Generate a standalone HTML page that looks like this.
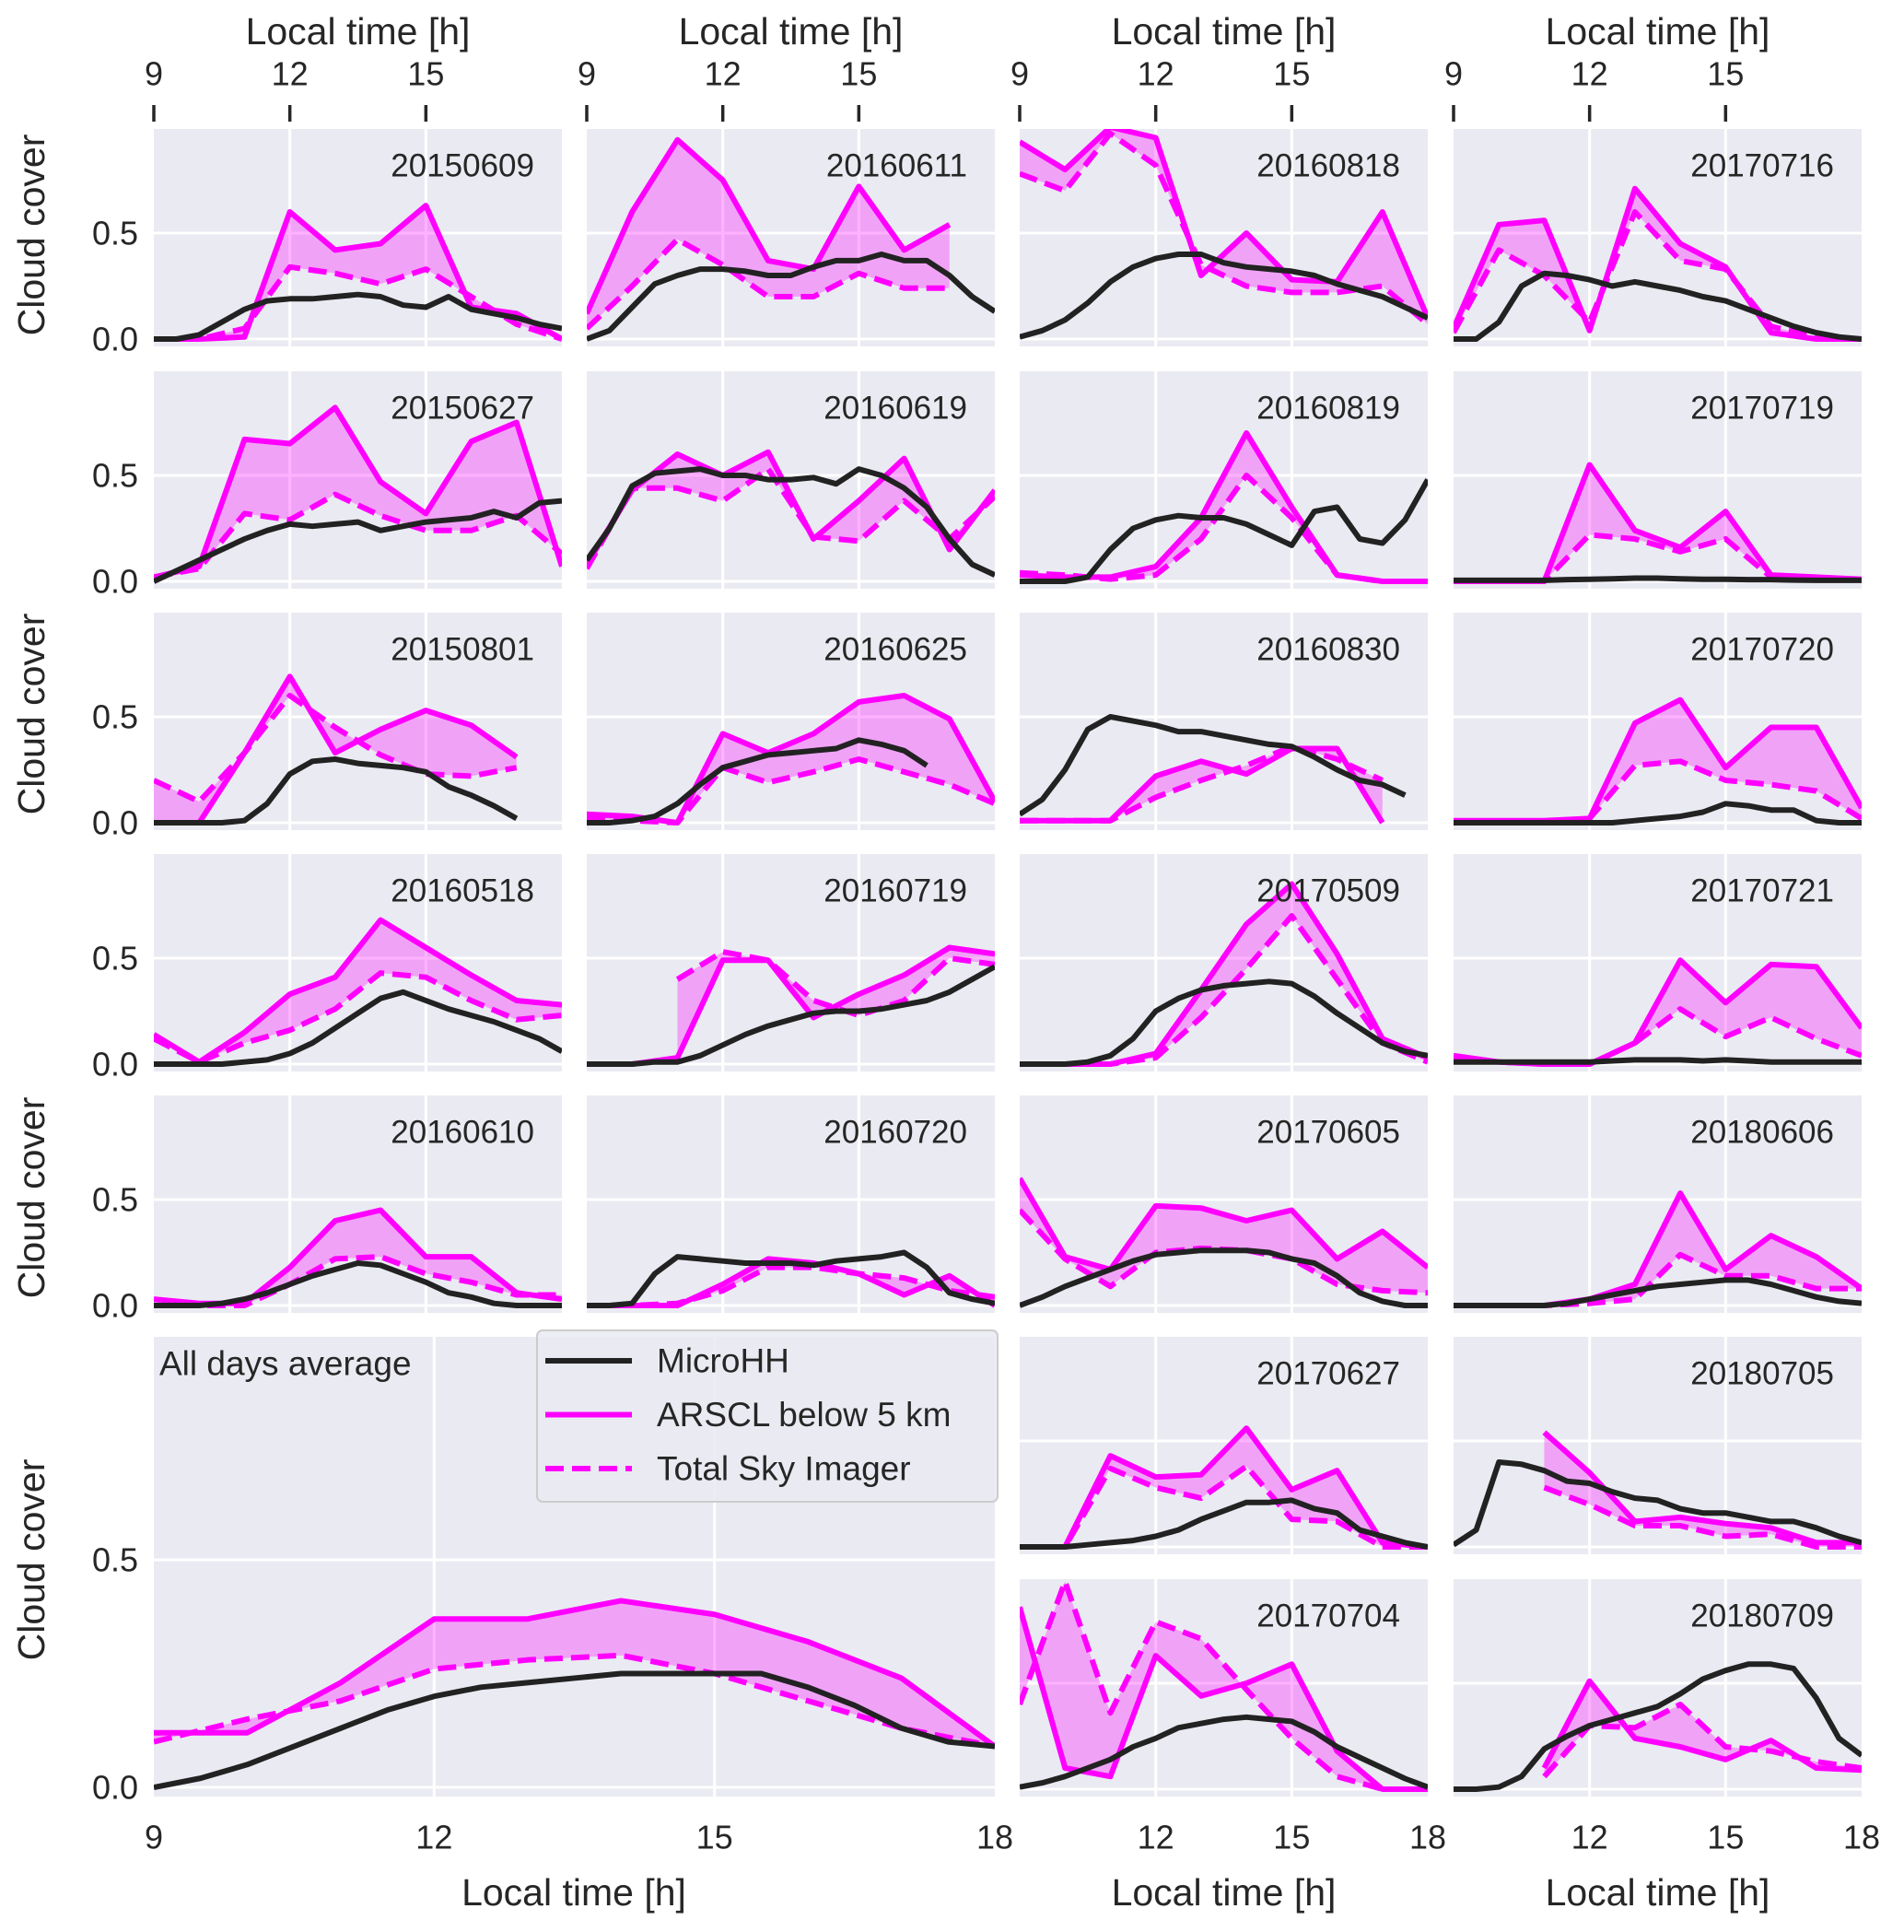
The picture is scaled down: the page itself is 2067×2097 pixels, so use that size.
<!DOCTYPE html>
<html><head><meta charset="utf-8">
<style>
html,body{margin:0;padding:0;background:#fff;}
svg{display:block;font-family:"Liberation Sans",sans-serif;}
</style></head>
<body>
<svg id="fig" width="2067" height="2097" viewBox="0 0 2067 2097" xmlns="http://www.w3.org/2000/svg"></svg>
<script>
// ---- data ----
const arsclHours = [9,10,11,12,13,14,15,16,17,18];
const mhhHours = [9,9.5,10,10.5,11,11.5,12,12.5,13,13.5,14,14.5,15,15.5,16,16.5,17,17.5,18];
const panelDates = ["20150609","20150627","20150801","20160518","20160610",
 "20160611","20160619","20160625","20160719","20160720",
 "20160818","20160819","20160830","20170509","20170605","20170627","20170704",
 "20170716","20170719","20170720","20170721","20180606","20180705","20180709"];
const panelCols = [0,0,0,0,0, 1,1,1,1,1, 2,2,2,2,2,2,2, 3,3,3,3,3,3,3];
const panelRows = [0,1,2,3,4, 0,1,2,3,4, 0,1,2,3,4,5,6, 0,1,2,3,4,5,6];
const arscl = [
 [0,0,0.01,0.6,0.42,0.45,0.63,0.15,0.12,0],
 [0.02,0.07,0.67,0.65,0.82,0.47,0.32,0.66,0.75,0.07],
 [0,0,0.33,0.69,0.33,0.44,0.53,0.46,0.31,null],
 [0.14,0.01,0.15,0.33,0.41,0.68,0.55,0.42,0.3,0.28],
 [0.03,0.01,0.01,0.18,0.4,0.45,0.23,0.23,0.06,0.03],
 [0.12,0.6,0.94,0.75,0.37,0.33,0.72,0.42,0.54,null],
 [0.08,0.43,0.6,0.5,0.61,0.2,0.38,0.58,0.15,0.43],
 [0.04,0.03,0,0.42,0.33,0.42,0.57,0.6,0.49,0.1],
 [0,0,0.03,0.49,0.49,0.22,0.33,0.42,0.55,0.52],
 [0,0,0,0.1,0.22,0.2,0.15,0.05,0.14,0],
 [0.93,0.8,1.0,0.95,0.3,0.5,0.28,0.27,0.6,0.1],
 [0.03,0.02,0.02,0.07,0.3,0.7,0.35,0.03,0,0],
 [0.01,0.01,0.01,0.22,0.29,0.23,0.35,0.35,0,null],
 [0,0,0,0.05,0.35,0.66,0.85,0.52,0.12,0.03],
 [0.6,0.23,0.17,0.47,0.46,0.4,0.45,0.22,0.35,0.18],
 [0,0,0.43,0.33,0.34,0.56,0.27,0.36,0.02,0],
 [0.86,0.1,0.06,0.63,0.44,0.5,0.59,0.18,0,0],
 [0.05,0.54,0.56,0.04,0.71,0.45,0.34,0.03,0,0],
 [0,0,0,0.55,0.24,0.16,0.33,0.03,0.02,0.01],
 [0.01,0.01,0.01,0.02,0.47,0.58,0.26,0.45,0.45,0.07],
 [0.04,0.01,0,0,0.1,0.49,0.29,0.47,0.46,0.17],
 [0,0,0,0.03,0.1,0.53,0.17,0.33,0.23,0.08],
 [null,null,0.54,0.35,0.12,0.14,0.11,0.09,0.02,0.02],
 [null,null,0.1,0.51,0.24,0.2,0.14,0.23,0.1,0.09]
];
const tsi = [
 [0,0,0.05,0.34,0.31,0.26,0.33,0.2,0.07,0],
 [0.02,0.06,0.32,0.29,0.41,0.31,0.24,0.24,0.31,0.13],
 [0.2,0.1,0.33,0.6,0.45,0.32,0.23,0.22,0.26,null],
 [0.12,0.01,0.1,0.16,0.26,0.43,0.41,0.3,0.21,0.23],
 [0,0,0,0.1,0.22,0.23,0.15,0.11,0.05,0.05],
 [0.05,0.25,0.47,0.35,0.2,0.2,0.31,0.24,0.24,null],
 [0.06,0.44,0.44,0.38,0.53,0.21,0.19,0.38,0.2,0.4],
 [0.02,0.01,0,0.26,0.19,0.24,0.3,0.24,0.18,0.09],
 [null,null,0.4,0.53,0.49,0.3,0.23,0.3,0.5,0.47],
 [0,0,0.01,0.07,0.18,0.18,0.15,0.13,0.07,0.04],
 [0.78,0.7,0.97,0.82,0.35,0.25,0.22,0.22,0.25,0.07],
 [0.04,0.03,0.01,0.03,0.2,0.5,0.3,0.03,0,0],
 [0.01,0.01,0.01,0.12,0.2,0.27,0.36,0.3,0.2,null],
 [0,0,0,0.03,0.22,0.45,0.7,0.4,0.1,0.01],
 [0.45,0.22,0.09,0.25,0.27,0.26,0.22,0.1,0.07,0.06],
 [0,0,0.37,0.28,0.23,0.38,0.13,0.12,0,0],
 [0.4,0.98,0.36,0.79,0.71,0.47,0.24,0.06,0,0],
 [0.03,0.42,0.3,0.08,0.6,0.37,0.33,0.06,0.01,0],
 [0,0,0,0.22,0.2,0.14,0.2,0.02,0.01,0.01],
 [0,0,0,0.02,0.27,0.29,0.2,0.18,0.15,0.02],
 [0.02,0.01,0,0,0.1,0.26,0.13,0.22,0.12,0.04],
 [0,0,0,0.01,0.03,0.24,0.14,0.14,0.08,0.08],
 [null,null,0.28,0.2,0.1,0.1,0.05,0.06,0,0],
 [null,null,0.06,0.3,0.29,0.4,0.2,0.18,0.13,0.1]
];
const microhh = [
 [0,0,0.02,0.08,0.14,0.18,0.19,0.19,0.2,0.21,0.2,0.16,0.15,0.2,0.14,0.12,0.1,0.07,0.05],
 [0,0.05,0.1,0.15,0.2,0.24,0.27,0.26,0.27,0.28,0.24,0.26,0.28,0.29,0.3,0.33,0.3,0.37,0.38],
 [0,0,0,0,0.01,0.09,0.23,0.29,0.3,0.28,0.27,0.26,0.24,0.17,0.13,0.08,0.02,null,null],
 [0,0,0,0,0.01,0.02,0.05,0.1,0.17,0.24,0.31,0.34,0.3,0.26,0.23,0.2,0.16,0.12,0.06],
 [0,0,0,0.01,0.03,0.06,0.1,0.14,0.17,0.2,0.19,0.15,0.11,0.06,0.04,0.01,0,0,0],
 [0,0.04,0.15,0.26,0.3,0.33,0.33,0.32,0.3,0.3,0.34,0.37,0.37,0.4,0.37,0.37,0.3,0.2,0.13],
 [0.1,0.25,0.45,0.51,0.52,0.53,0.5,0.5,0.48,0.48,0.49,0.46,0.53,0.5,0.44,0.35,0.2,0.08,0.03],
 [0,0,0.01,0.03,0.09,0.18,0.26,0.29,0.32,0.33,0.34,0.35,0.39,0.37,0.34,0.27,null,null,null],
 [0,0,0,0.01,0.01,0.04,0.09,0.14,0.18,0.21,0.24,0.25,0.25,0.26,0.28,0.3,0.34,0.4,0.46],
 [0,0,0.01,0.15,0.23,0.22,0.21,0.2,0.2,0.2,0.19,0.21,0.22,0.23,0.25,0.18,0.06,0.03,0.01],
 [0.01,0.04,0.09,0.17,0.27,0.34,0.38,0.4,0.4,0.36,0.34,0.33,0.32,0.3,0.26,0.23,0.2,0.15,0.1],
 [0,0,0,0.02,0.15,0.25,0.29,0.31,0.3,0.3,0.27,0.22,0.17,0.33,0.35,0.2,0.18,0.29,0.48],
 [0.04,0.11,0.25,0.44,0.5,0.48,0.46,0.43,0.43,0.41,0.39,0.37,0.36,0.31,0.25,0.2,0.18,0.13,null],
 [0,0,0,0.01,0.04,0.12,0.25,0.31,0.35,0.37,0.38,0.39,0.38,0.32,0.24,0.17,0.1,0.06,0.04],
 [0,0.04,0.09,0.13,0.17,0.21,0.24,0.25,0.26,0.26,0.26,0.25,0.22,0.2,0.14,0.06,0.02,0,0],
 [0,0,0,0.01,0.02,0.03,0.05,0.08,0.13,0.17,0.21,0.21,0.22,0.18,0.16,0.08,0.05,0.02,0],
 [0.01,0.03,0.06,0.1,0.14,0.2,0.24,0.29,0.31,0.33,0.34,0.33,0.32,0.27,0.2,0.15,0.1,0.05,0.01],
 [0,0,0.08,0.25,0.31,0.3,0.28,0.25,0.27,0.25,0.23,0.2,0.18,0.14,0.1,0.06,0.03,0.01,0],
 [0.005,0.005,0.005,0.005,0.005,0.008,0.01,0.012,0.015,0.015,0.012,0.01,0.01,0.008,0.008,0.006,0.005,0.005,0.005],
 [0,0,0,0,0,0,0,0,0.01,0.02,0.03,0.05,0.09,0.08,0.06,0.06,0.01,0,0],
 [0.01,0.01,0.01,0.01,0.01,0.01,0.01,0.015,0.02,0.02,0.02,0.015,0.02,0.015,0.01,0.01,0.01,0.01,0.01],
 [0,0,0,0,0,0.01,0.03,0.05,0.07,0.09,0.1,0.11,0.12,0.12,0.1,0.07,0.04,0.02,0.01],
 [0.01,0.08,0.4,0.39,0.36,0.31,0.3,0.26,0.23,0.22,0.18,0.16,0.16,0.14,0.12,0.12,0.09,0.05,0.02],
 [0,0,0.01,0.06,0.19,0.25,0.3,0.33,0.36,0.39,0.45,0.52,0.56,0.59,0.59,0.57,0.43,0.24,0.16]
];
const avgArscl = [0.12,0.12,0.23,0.37,0.37,0.41,0.38,0.32,0.24,0.09];
const avgTsi = [0.1,0.15,0.19,0.26,0.28,0.29,0.25,0.19,0.13,0.09];
const avgMicrohh = [0,0.02,0.05,0.09,0.13,0.17,0.2,0.22,0.23,0.24,0.25,0.25,0.25,0.25,0.22,0.18,0.13,0.1,0.09];
const topTicks = [9,12,15];
const bottomTicksBig = [9,12,15,18];
const bottomTicksSmall = [12,15,18];
const yTicks = [0.0,0.5];
const legendLabels = ["MicroHH","ARSCL below 5 km","Total Sky Imager"];

// ---- layout ----
const NS="http://www.w3.org/2000/svg";
const svg=document.getElementById('fig');
const colX=[167,637,1107,1578], PW=443;
const rowY=[140,403,665,927,1189,1451,1714], PH=236;
const MAG="#ff00ff", BLK="#222222";
function mk(tag,attrs,parent){const e=document.createElementNS(NS,tag);for(const k in attrs)e.setAttribute(k,attrs[k]);(parent||svg).appendChild(e);return e;}
function txt(s,x,y,size,anchor,parent,extra){const t=mk('text',Object.assign({x:x,y:y,'font-size':size,'text-anchor':anchor||'middle','dominant-baseline':'central',fill:'#262626'},extra||{}),parent);t.textContent=s;return t;}

function drawPanel(x0,y0,w,h,zeroY,unit,Avals,Tvals,Mvals,label,name){
  const g=mk('g',{});
  
  
  const sx=v=>x0+(v-9)/9*w, sy=v=>zeroY-v*unit;
  mk('rect',{x:x0,y:y0,width:w,height:h,fill:'#eaeaf2'},g);
  const clip=mk('clipPath',{id:'c'+name},g); mk('rect',{x:x0,y:y0,width:w,height:h},clip);
  [12,15].forEach(t=>mk('line',{x1:sx(t),x2:sx(t),y1:y0,y2:y0+h,stroke:'#fff','stroke-width':3},g));
  yTicks.forEach(t=>mk('line',{x1:x0,x2:x0+w,y1:sy(t),y2:sy(t),stroke:'#fff','stroke-width':3},g));
  const cg=mk('g',{'clip-path':'url(#c'+name+')'},g);
  let seg=[];
  const flush=()=>{ if(seg.length>1){ const pts=seg.map(i=>sx(arsclHours[i])+','+sy(Avals[i])).concat(seg.slice().reverse().map(i=>sx(arsclHours[i])+','+sy(Tvals[i])));
      const p=mk('polygon',{points:pts.join(' '),fill:MAG,'fill-opacity':0.3,stroke:'none'},cg);
      
       } seg=[]; };
  arsclHours.forEach((hr,i)=>{ if(Avals[i]!=null&&Tvals[i]!=null) seg.push(i); else flush(); }); flush();
  const line=(xs,vals,attrs,nm)=>{ const pts=[]; xs.forEach((hr,i)=>{ if(vals[i]!=null) pts.push(sx(hr)+','+sy(vals[i])); });
    const p=mk('polyline',Object.assign({points:pts.join(' '),fill:'none','stroke-linejoin':'round'},attrs),cg);
    
     };
  line(arsclHours,Tvals,{stroke:MAG,'stroke-width':6,'stroke-dasharray':'20 9'},'tsi-line');
  line(arsclHours,Avals,{stroke:MAG,'stroke-width':6},'arscl-line');
  line(mhhHours,Mvals,{stroke:BLK,'stroke-width':6},'microhh-line');
  if(label){ const t=txt(label,x0+w-30,y0+40,35,'end',g);
    
     }
  return {sx:sx,sy:sy};
}

panelDates.forEach((d,i)=>{
  const x0=colX[panelCols[i]], y0=rowY[panelRows[i]];
  drawPanel(x0,y0,PW,PH,y0+228,230,arscl[i],tsi[i],microhh[i],d,'panel-'+d);
});
const big=drawPanel(167,1451,913,499,1940,494,avgArscl,avgTsi,avgMicrohh,null,'panel-all-days-average');
const at=txt('All days average',173,1480,37,'start');



for(let r=0;r<5;r++){ yTicks.forEach(t=>{ const e=txt(t.toFixed(1),150,rowY[r]+228-t*230,36,'end');
  
   }); }
yTicks.forEach(t=>{ const e=txt(t.toFixed(1),150,big.sy(t),36,'end');
  
   });
[255,775,1300,1693].forEach(cy=>{ const e=txt('Cloud cover',0,0,41,'middle',null,{transform:'translate(34,'+cy+') rotate(-90)'});
  
   });
colX.forEach(x0=>{
  const e=txt('Local time [h]',x0+PW/2,34,41,'middle');
  
  
  topTicks.forEach(t=>{ const x=x0+(t-9)/9*PW;
    const l=txt(String(t),x,80,36,'middle');
    
    
    const m=mk('line',{x1:x,x2:x,y1:114,y2:132,stroke:'#262626','stroke-width':3.5});
    
     });
});
bottomTicksBig.forEach(t=>{ const e=txt(String(t),big.sx(t),1994,36,'middle');
  
   });
[2,3].forEach(c=>{ bottomTicksSmall.forEach(t=>{ const e=txt(String(t),colX[c]+(t-9)/9*PW,1994,36,'middle');
  
   }); });
[623,colX[2]+PW/2,colX[3]+PW/2].forEach(cx=>{ const e=txt('Local time [h]',cx,2054,41,'middle');
  
   });
const lg=mk('g',{});


mk('rect',{x:583,y:1444,width:500,height:186,rx:6,fill:'#eaeaf2','fill-opacity':0.85,stroke:'#cccccc','stroke-width':2},lg);
const legStyles=[{stroke:BLK},{stroke:MAG},{stroke:MAG,'stroke-dasharray':'20 9'}];
legendLabels.forEach((s,i)=>{ const y=1477+i*58.5;
  const ent=mk('g',{},lg);
  
  
  mk('line',Object.assign({x1:592,x2:686,y1:y,y2:y,'stroke-width':6},legStyles[i]),ent);
  txt(s,713,y,37,'start',ent); });
</script>
</body></html>
